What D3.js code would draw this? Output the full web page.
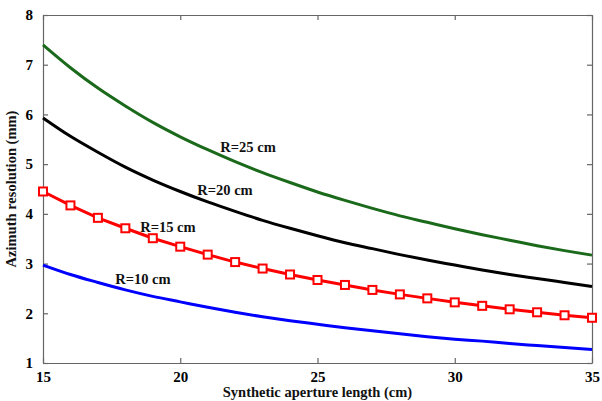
<!DOCTYPE html>
<html><head><meta charset="utf-8">
<script src="https://cdn.jsdelivr.net/npm/d3@7/dist/d3.min.js"></script>
<style>body{margin:0;background:#fff}svg{display:block}text{font-family:"Liberation Serif","Times New Roman",serif;font-weight:bold}</style>
</head><body><svg id="c" width="602" height="401"></svg>
<script>
const lengths = [15,16,17,18,19,20,21,22,23,24,25,26,27,28,29,30,31,32,33,34,35];
const r25 = [7.40,6.94,6.53,6.17,5.84,5.55,5.29,5.05,4.83,4.63,4.44,4.27,4.11,3.96,3.83,3.70,3.58,3.47,3.36,3.26,3.17];
const r20 = [5.93,5.56,5.24,4.94,4.68,4.45,4.24,4.05,3.87,3.71,3.56,3.42,3.30,3.18,3.07,2.97,2.87,2.78,2.70,2.62,2.54];
const r15 = [4.45,4.17,3.92,3.71,3.51,3.34,3.18,3.03,2.90,2.78,2.67,2.57,2.47,2.38,2.30,2.22,2.15,2.08,2.02,1.96,1.91];
const r10 = [2.97,2.78,2.62,2.47,2.34,2.23,2.12,2.02,1.93,1.85,1.78,1.71,1.65,1.59,1.53,1.48,1.44,1.39,1.35,1.31,1.27];
const xTicks = [15,20,25,30,35];
const yTicks = [1,2,3,4,5,6,7,8];
const seriesNames = ["R=25 cm","R=20 cm","R=15 cm","R=10 cm"];

const svg = d3.select("#c");
const L = 43, R = 592, T = 15, B = 363;
const x = d3.scaleLinear().domain([15,35]).range([L,R]);
const y = d3.scaleLinear().domain([1,8]).range([B,T]);
const axisColor = "#666";
const fmt = d3.format("d");

function styleAxis(g){
  g.selectAll(".domain").attr("stroke",axisColor).attr("stroke-width",1.2);
  g.selectAll(".tick line").attr("stroke",axisColor).attr("stroke-width",1.2);
  g.selectAll(".tick text").attr("fill","#000").style("font-size","15px").style("font-family","'Liberation Serif',serif").style("font-weight","bold");
}
svg.append("g").attr("transform",`translate(0,${B})`)
  .call(d3.axisBottom(x).tickValues(xTicks).tickFormat(fmt).tickSizeInner(-5).tickSizeOuter(0).tickPadding(8)).call(styleAxis);
svg.append("g").attr("transform",`translate(0,${T})`)
  .call(d3.axisTop(x).tickValues(xTicks).tickSizeInner(-5).tickSizeOuter(0).tickFormat("")).call(styleAxis);
svg.append("g").attr("transform",`translate(${L},0)`)
  .call(d3.axisLeft(y).tickValues(yTicks).tickFormat(fmt).tickSizeInner(-5).tickSizeOuter(0).tickPadding(10)).call(styleAxis);
svg.append("g").attr("transform",`translate(${R},0)`)
  .call(d3.axisRight(y).tickValues(yTicks).tickSizeInner(-5).tickSizeOuter(0).tickFormat("")).call(styleAxis);

const smooth = d3.line().x((d,i)=>x(lengths[i])).y(d=>y(d)).curve(d3.curveMonotoneX);
const straight = d3.line().x((d,i)=>x(lengths[i])).y(d=>y(d));

const series = [
  {v:r25,c:"#1b6a1b",gen:smooth},
  {v:r20,c:"#000",gen:smooth},
  {v:r15,c:"#f00",gen:straight,marker:true},
  {v:r10,c:"#0000ff",gen:smooth}
];
series.forEach(s=>{
  svg.append("path").attr("d",s.gen(s.v)).attr("fill","none").attr("stroke",s.c).attr("stroke-width",3);
  if(s.marker){
    svg.append("g").selectAll("rect").data(s.v).join("rect")
      .attr("x",(d,i)=>x(lengths[i])-4).attr("y",d=>y(d)-4)
      .attr("width",8).attr("height",8)
      .attr("fill","#fff").attr("stroke",s.c).attr("stroke-width",2);
  }
});

// series label anchor positions in data units
const labelX = [22.47,21.63,19.55,18.64];
const labelY = [5.32,4.44,3.71,2.65];
seriesNames.forEach((n,i)=>{
  svg.append("text").attr("x",x(labelX[i])).attr("y",y(labelY[i])).attr("text-anchor","middle")
    .attr("dominant-baseline","middle").style("font-size","14.5px").attr("fill","#111").text(n);
});

svg.append("text").attr("x",(L+R)/2).attr("y",397).attr("text-anchor","middle")
  .style("font-size","14.5px").attr("fill","#111").text("Synthetic aperture length (cm)");
svg.append("text").attr("transform",`translate(13,${(T+B)/2}) rotate(-90)`).attr("text-anchor","middle")
  .attr("dominant-baseline","middle").style("font-size","14.5px").attr("fill","#111").text("Azimuth resolution (mm)");
</script></body></html>
